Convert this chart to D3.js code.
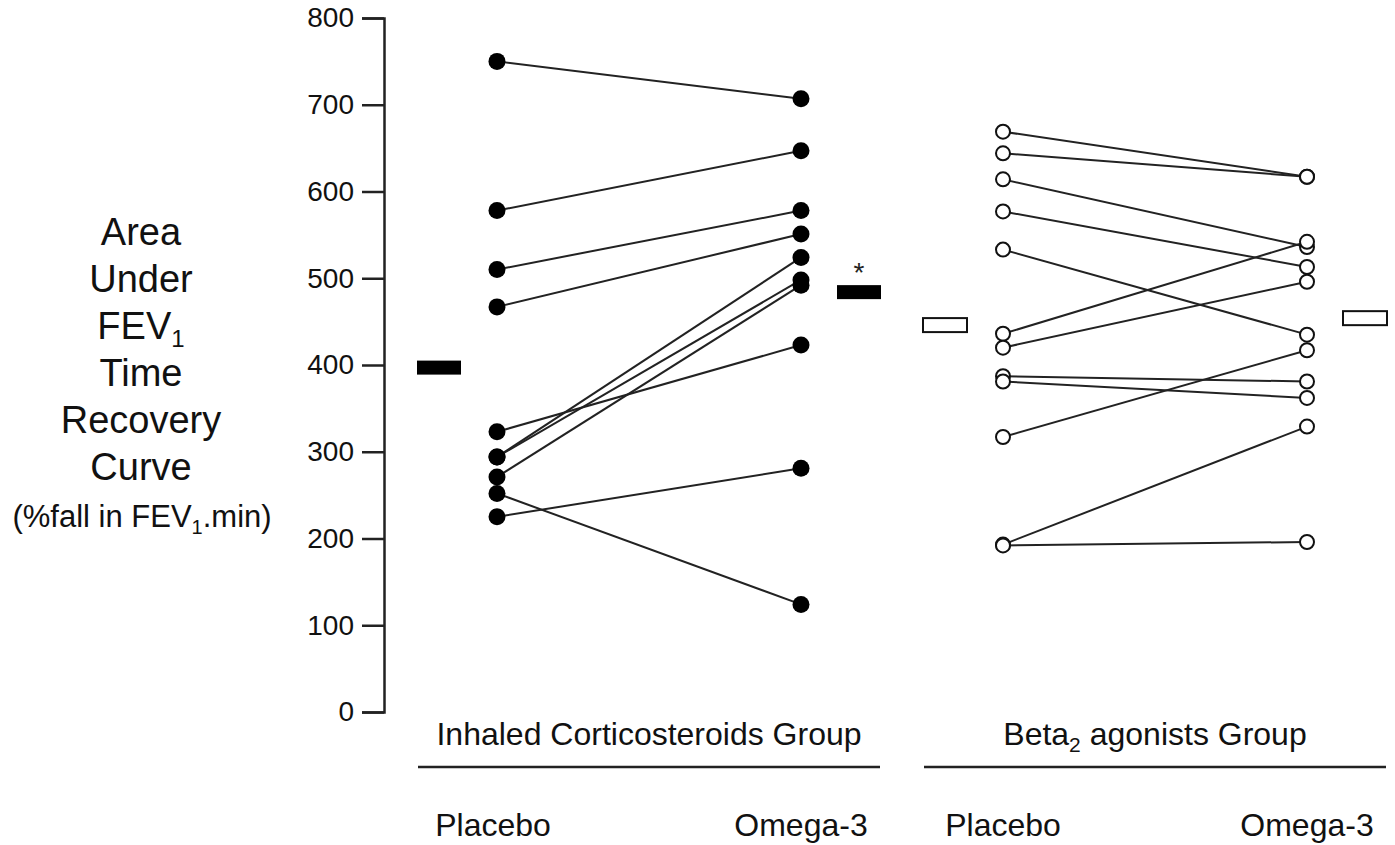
<!DOCTYPE html>
<html>
<head>
<meta charset="utf-8">
<script src="https://cdn.jsdelivr.net/npm/d3@7"></script>
<style>
  body { margin: 0; background: #fff; }
  svg { display: block; font-family: "Liberation Sans", Arial, Helvetica, sans-serif; }
</style>
</head>
<body>
<div id="chart"></div>
<script>
// data (paired subjects, same index = same subject)
var groups      = ["Inhaled Corticosteroids Group", "Beta2 agonists Group"];
var treatments  = ["Placebo", "Omega-3"];
var yTicks      = [0, 100, 200, 300, 400, 500, 600, 700, 800];

var icsPlacebo  = [750, 578, 510, 467, 323, 294, 294, 271, 252, 225];
var icsOmega    = [707, 647, 578, 551, 423, 524, 498, 492, 124, 281];
var icsMeans    = [397, 484];

var betaPlacebo = [669, 644, 614, 577, 533, 436, 420, 387, 381, 317, 193, 192];
var betaOmega   = [617, 617, 536, 513, 435, 542, 496, 381, 362, 417, 329, 196];
var betaMeans   = [446, 454];

var width = 1395, height = 845;

var svg = d3.select("#chart")
  .append("svg")
  .attr("width", width)
  .attr("height", height);

// scales
var y = d3.scaleLinear().domain([0, 800]).range([712, 18]);
var gx = d3.scaleOrdinal().domain(groups).range([497, 1003]);
var tx = d3.scalePoint().domain(treatments).range([0, 304]);

//y axis
var yAxis = d3.axisLeft(y).tickValues(yTicks).tickSize(22).tickPadding(8);
var ax = svg.append("g")
  .attr("class", "y axis")
  .attr("transform", "translate(384,0)")
  .call(yAxis);
ax.select(".domain").attr("stroke", "#222").attr("stroke-width", 2.5);
ax.selectAll(".tick line").attr("stroke", "#222").attr("stroke-width", 2.5);
ax.selectAll(".tick text")
  .attr("fill", "#111")
  .style("font-size", "28px")
  .style("font-family", "'Liberation Sans', Arial, sans-serif");

// y axis title, one word per line
var title = svg.append("g").attr("class", "ytitle").attr("fill", "#111");
var titleLines = ["Area", "Under", "FEV", "Time", "Recovery", "Curve"];
titleLines.forEach(function (t, i) {
  var txt = title.append("text")
    .attr("x", 141)
    .attr("y", 245 + i * 47)
    .attr("text-anchor", "middle")
    .style("font-size", "38px")
    .text(t);
  if (t == "FEV") {
    txt.append("tspan").attr("dy", 8).style("font-size", "24px").text("1");
  }
});
var unit = title.append("text")
  .attr("x", 142)
  .attr("y", 527)
  .attr("text-anchor", "middle")
  .style("font-size", "31px");
unit.append("tspan").text("(%fall in FEV");
unit.append("tspan").attr("dy", 7).style("font-size", "20px").text("1");
unit.append("tspan").attr("dy", -7).text(".min)");

// one panel per group
function drawGroup(name, placebo, omega, means, filled) {
  var g = svg.append("g").attr("class", "group");
  var x0 = gx(name) + tx("Placebo");
  var x1 = gx(name) + tx("Omega-3");
  var pairs = placebo.map(function (d, i) { return [d, omega[i]]; });

  g.selectAll("line.pair")
    .data(pairs)
    .enter()
    .append("line")
    .attr("class", "pair")
    .attr("x1", x0)
    .attr("x2", x1)
    .attr("y1", function (d) { return y(d[0]); })
    .attr("y2", function (d) { return y(d[1]); })
    .attr("stroke", "#222")
    .attr("stroke-width", 2);

  var pts = [];
  placebo.forEach(function (d) { pts.push({x: x0, v: d}); });
  omega.forEach(function (d) { pts.push({x: x1, v: d}); });

  g.selectAll("circle")
    .data(pts)
    .enter()
    .append("circle")
    .attr("cx", function (d) { return d.x; })
    .attr("cy", function (d) { return y(d.v); })
    .attr("r", filled ? 8.5 : 7)
    .attr("fill", filled ? "#000" : "#fff")
    .attr("stroke", "#111")
    .attr("stroke-width", filled ? 0 : 2);

  // mean bars beside each column
  var barX = [x0 - 58, x1 + 58];
  g.selectAll("rect.mean")
    .data(means)
    .enter()
    .append("rect")
    .attr("class", "mean")
    .attr("x", function (d, i) { return barX[i] - 22; })
    .attr("y", function (d) { return y(d) - 7; })
    .attr("width", 44)
    .attr("height", 14)
    .attr("fill", filled ? "#000" : "#fff")
    .attr("stroke", "#111")
    .attr("stroke-width", filled ? 0 : 2);

  // group label + rule + treatment labels
  var cx = (x0 + x1) / 2;
  var lab = g.append("text")
    .attr("x", cx)
    .attr("y", 745)
    .attr("text-anchor", "middle")
    .attr("fill", "#111")
    .style("font-size", "32px");
  if (name.indexOf("Beta2") == 0) {
    lab.append("tspan").text("Beta");
    lab.append("tspan").attr("dy", 7).style("font-size", "21px").text("2");
    lab.append("tspan").attr("dy", -7).text(" agonists Group");
  } else {
    lab.text(name);
  }

  g.append("line")
    .attr("x1", cx - 231)
    .attr("x2", cx + 231)
    .attr("y1", 767)
    .attr("y2", 767)
    .attr("stroke", "#222")
    .attr("stroke-width", 2.5);

  g.selectAll("text.treat")
    .data(treatments)
    .enter()
    .append("text")
    .attr("class", "treat")
    .attr("x", function (d) { return gx(name) + tx(d) - (d == "Placebo" && filled ? 4 : 0); })
    .attr("y", 836)
    .attr("text-anchor", "middle")
    .attr("fill", "#111")
    .style("font-size", "32px")
    .text(function (d) { return d; });

  return barX;
}

var icsBars = drawGroup(groups[0], icsPlacebo, icsOmega, icsMeans, true);
drawGroup(groups[1], betaPlacebo, betaOmega, betaMeans, false);

// significance star above omega-3 mean
svg.append("text")
  .attr("x", icsBars[1])
  .attr("y", y(icsMeans[1]) - 10)
  .attr("text-anchor", "middle")
  .attr("fill", "#222")
  .style("font-size", "28px")
  .text("*");
</script>
</body>
</html>
